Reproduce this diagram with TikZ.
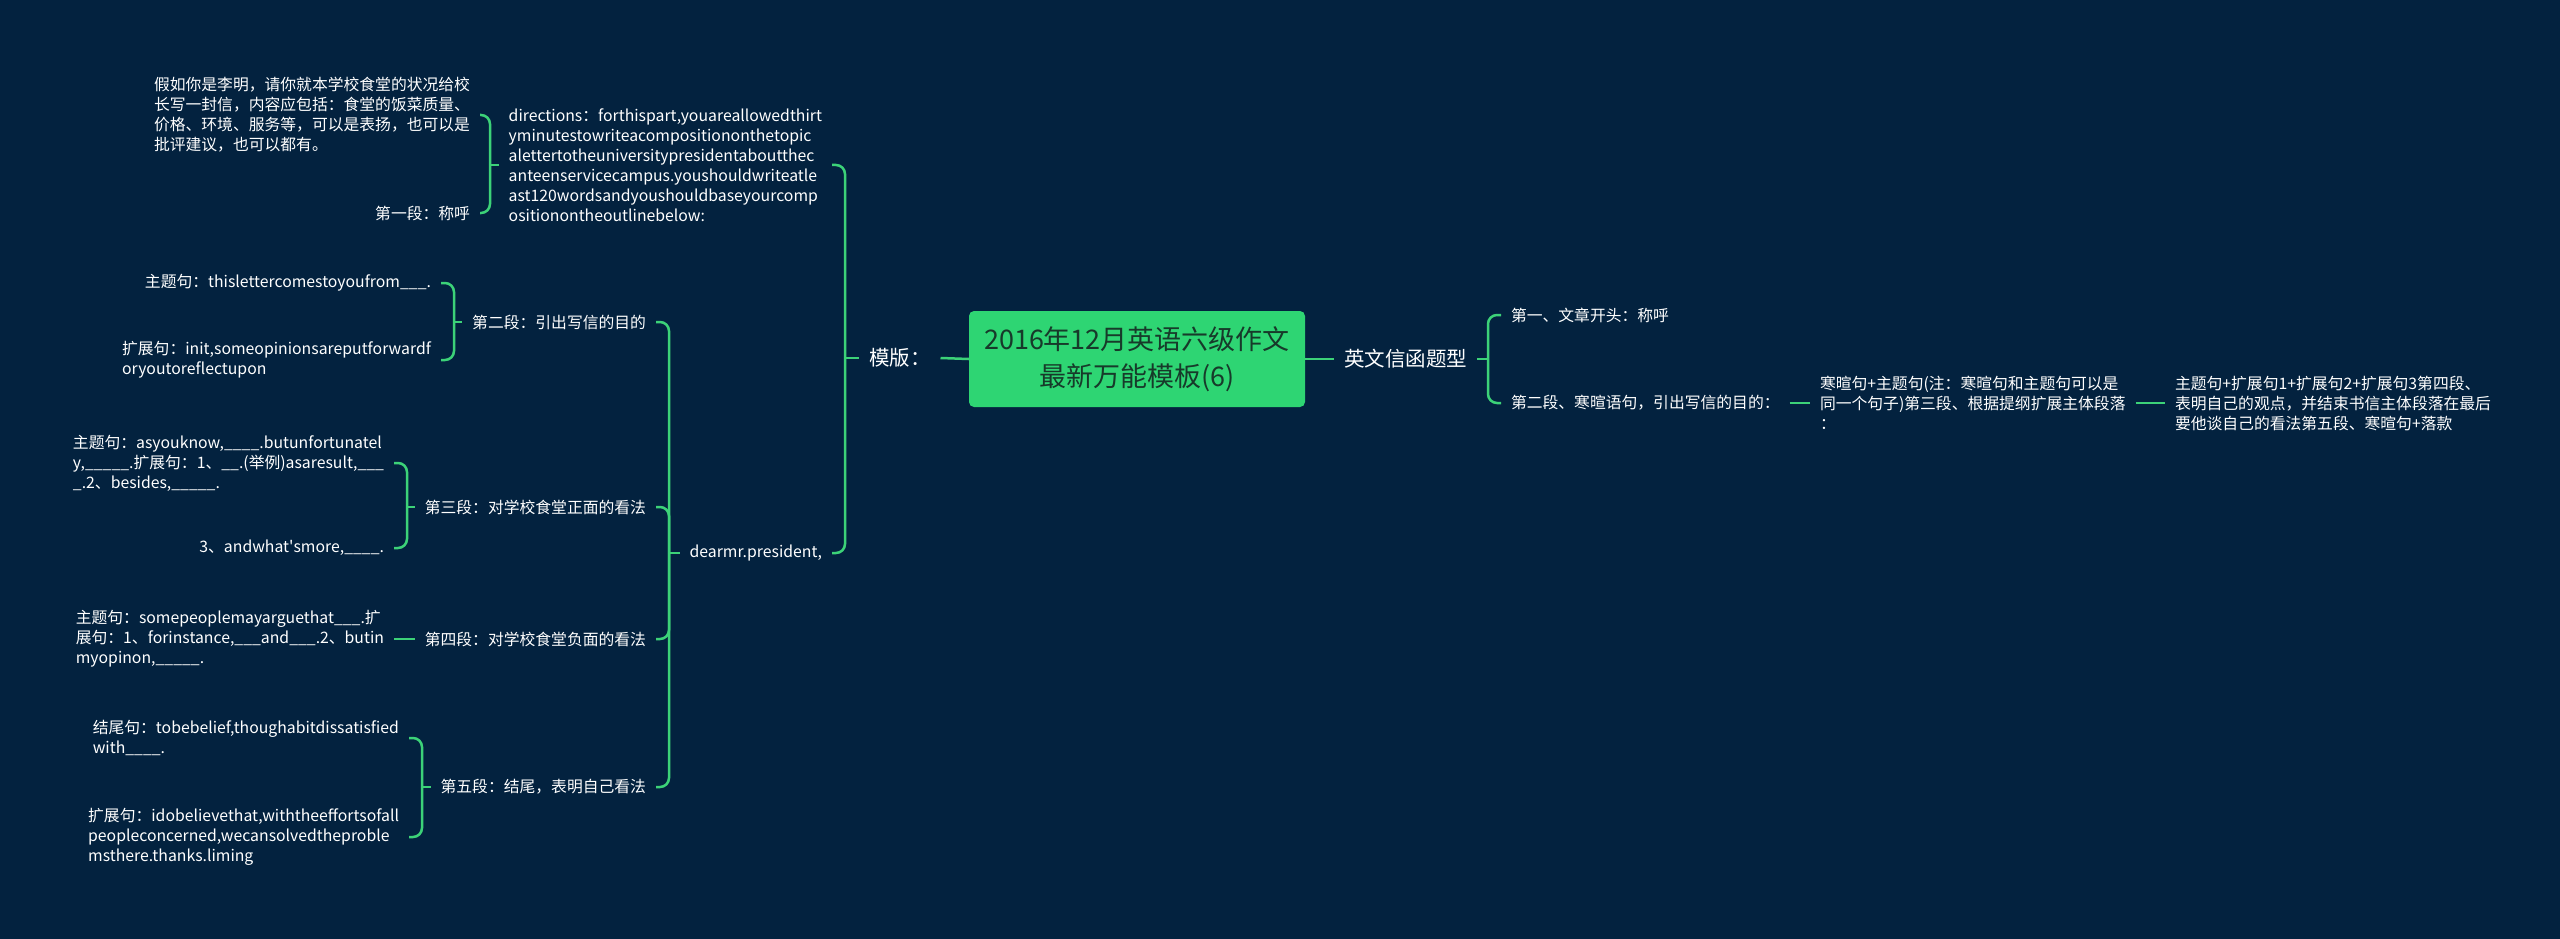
\documentclass[tikz,border=0pt]{standalone}
\usepackage{fontspec}
\setmainfont{Noto Sans CJK SC}
\usetikzlibrary{positioning}
\definecolor{bg}{HTML}{03223F}
\definecolor{lnk}{HTML}{3CD278}
\definecolor{rootfill}{HTML}{2ED573}
\definecolor{roottext}{HTML}{173A2A}

\begin{document}
\begin{tikzpicture}[x=1pt,y=-1pt,
        every node/.style={inner sep=0pt,text=white},
        txt/.style={font=\fontsize{15.8}{20}\selectfont,outer xsep=10pt,align=left},
        lf/.style={txt,anchor=east},
        rt/.style={txt,anchor=west},
        sub/.style={font=\fontsize{20.5}{24}\selectfont,outer xsep=10pt},
        topic/.style={fill=rootfill,text=roottext,rounded corners=5pt,minimum width=336pt,
            minimum height=96pt,align=center,font=\fontsize{27}{37}\selectfont},
        link/.style={draw=lnk,line width=2.5pt,rounded corners=9pt}]

    \fill[bg] (0,0) rectangle (2560,939);

    % centre
    \node[topic] (root) at (1137,359) {2016年12月英语六级作文\\最新万能模板(6)};
    \node[sub,anchor=west] (mb) at (859,358) {模版：};
    \node[sub,anchor=west] (yw) at (1334,359) {英文信函题型};

    % left side
    \node[lf] (dir) at (832,165) {directions：forthispart,youareallowedthirt\\yminutestowriteacompositiononthetopic\\alettertotheuniversitypresidentaboutthec\\anteenservicecampus.youshouldwriteatle\\ast120wordsandyoushouldbaseyourcomp\\ositionontheoutlinebelow:};
    \node[lf] (dear) at (832,553) {dearmr.president,};

    \node[lf] (jr) at (480,115) {假如你是李明，请你就本学校食堂的状况给校\\长写一封信，内容应包括：食堂的饭菜质量、\\价格、环境、服务等，可以是表扬，也可以是\\批评建议，也可以都有。};
    \node[lf] (dy) at (480,213) {第一段：称呼};

    \node[lf] (d2) at (656,322) {第二段：引出写信的目的};
    \node[lf] (d3) at (656,507) {第三段：对学校食堂正面的看法};
    \node[lf] (d4) at (656,639) {第四段：对学校食堂负面的看法};
    \node[lf] (d5) at (656,787) {第五段：结尾，表明自己看法};

    \node[lf] (t2a) at (441,283) {主题句：thislettercomestoyoufrom\_\_\_.};
    \node[lf] (t2b) at (441,360) {扩展句：init,someopinionsareputforwardf\\oryoutoreflectupon};

    \node[lf] (t3a) at (394,463) {主题句：asyouknow,\_\_\_\_.butunfortunatel\\y,\_\_\_\_\_.扩展句：1、\_\_.(举例)asaresult,\_\_\_\\\_.2、besides,\_\_\_\_\_.};
    \node[lf] (t3b) at (394,548) {3、andwhat\textquotesingle smore,\_\_\_\_.};

    \node[lf] (t4a) at (394,639) {主题句：somepeoplemayarguethat\_\_\_.扩\\展句：1、forinstance,\_\_\_and\_\_\_.2、butin\\myopinon,\_\_\_\_\_.};

    \node[lf] (t5a) at (409,738) {结尾句：tobebelief,thoughabitdissatisfied\\with\_\_\_\_.};
    \node[lf] (t5b) at (409,837) {扩展句：idobelievethat,withtheeffortsofall\\peopleconcerned,wecansolvedtheproble\\msthere.thanks.liming};

    % right side
    \node[rt] (r1) at (1501,315) {第一、文章开头：称呼};
    \node[rt] (r2) at (1501,403) {第二段、寒暄语句，引出写信的目的：};
    \node[rt] (r3) at (1810,403) {寒暄句+主题句(注：寒暄句和主题句可以是\\同一个句子)第三段、根据提纲扩展主体段落\\：};
    \node[rt] (r4) at (2165,403) {主题句+扩展句1+扩展句2+扩展句3第四段、\\表明自己的观点，并结束书信主体段落在最后\\要他谈自己的看法第五段、寒暄句+落款};

    % joints
    \coordinate (j0) at (845,358);
    \coordinate (j1) at (490,165);
    \coordinate (j2) at (669,553);
    \coordinate (j3) at (454,322);
    \coordinate (j4) at (407,507);
    \coordinate (j5) at (422,787);
    \coordinate (j6) at (1488,359);

    \draw[link] (root.west) -- (mb.east);
    \draw[link] (root.east) -- (yw.west);

    \draw[link] (dir.east) -| (j0);
    \draw[link] (dear.east) -| (j0);
    \draw[link] (j0) -- (mb.west);

    \draw[link] (jr.east) -| (j1);
    \draw[link] (dy.east) -| (j1);
    \draw[link] (j1) -- (dir.west);

    \draw[link] (d2.east) -| (j2);
    \draw[link] (d3.east) -| (j2);
    \draw[link] (d4.east) -| (j2);
    \draw[link] (d5.east) -| (j2);
    \draw[link] (j2) -- (dear.west);

    \draw[link] (t2a.east) -| (j3);
    \draw[link] (t2b.east) -| (j3);
    \draw[link] (j3) -- (d2.west);

    \draw[link] (t3a.east) -| (j4);
    \draw[link] (t3b.east) -| (j4);
    \draw[link] (j4) -- (d3.west);

    \draw[link] (t4a.east) -- (d4.west);

    \draw[link] (t5a.east) -| (j5);
    \draw[link] (t5b.east) -| (j5);
    \draw[link] (j5) -- (d5.west);

    \draw[link] (yw.east) -- (j6);
    \draw[link] (j6) |- (r1.west);
    \draw[link] (j6) |- (r2.west);
    \draw[link] (r2.east) -- (r3.west);
    \draw[link] (r3.east) -- (r4.west);

\end{tikzpicture}
\end{document}
